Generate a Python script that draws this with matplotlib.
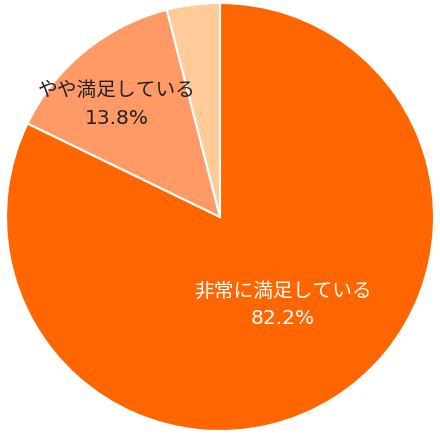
import matplotlib
matplotlib.use("Agg")
import matplotlib.pyplot as plt

plt.rcParams['font.family'] = ['Noto Sans CJK JP', 'DejaVu Sans']

categories = ["非常に満足している", "やや満足している", "その他"]
values = [82.2, 13.8, 4.0]
colors = ["#FF6600", "#FF9966", "#FFCC99"]
show_label = [True, True, False]
label_colors = ["white", "#222222", "#222222"]

W, H = 440, 437
fig = plt.figure(figsize=(W / 100, H / 100), dpi=100)
cx, cy, r = 220, 217, 214
ax = fig.add_axes([(cx - r) / W, (H - cy - r) / H, 2 * r / W, 2 * r / H])
wedges, _ = ax.pie(values, colors=colors, startangle=90, counterclock=False,
                   radius=1.0, wedgeprops=dict(edgecolor="white", linewidth=1.5))
ax.set_xlim(-1, 1)
ax.set_ylim(-1, 1)
ax.set_aspect("auto")
ax.axis("off")

label_pos = [(0.294, -0.346, -0.472), (-0.48, 0.589, 0.458), (0, 0, 0)]
for name, val, show, col, pos in zip(categories, values, show_label, label_colors, label_pos):
    if show:
        ax.text(pos[0], pos[1], name, ha="center", va="center",
                fontsize=14.2, color=col, family=['Noto Sans CJK JP', 'DejaVu Sans'])
        ax.text(pos[0], pos[2], f"{val:.1f}%", ha="center", va="center",
                fontsize=14.5, color=col, family=['DejaVu Sans'])

fig.savefig("out.png", dpi=100, facecolor="white")
